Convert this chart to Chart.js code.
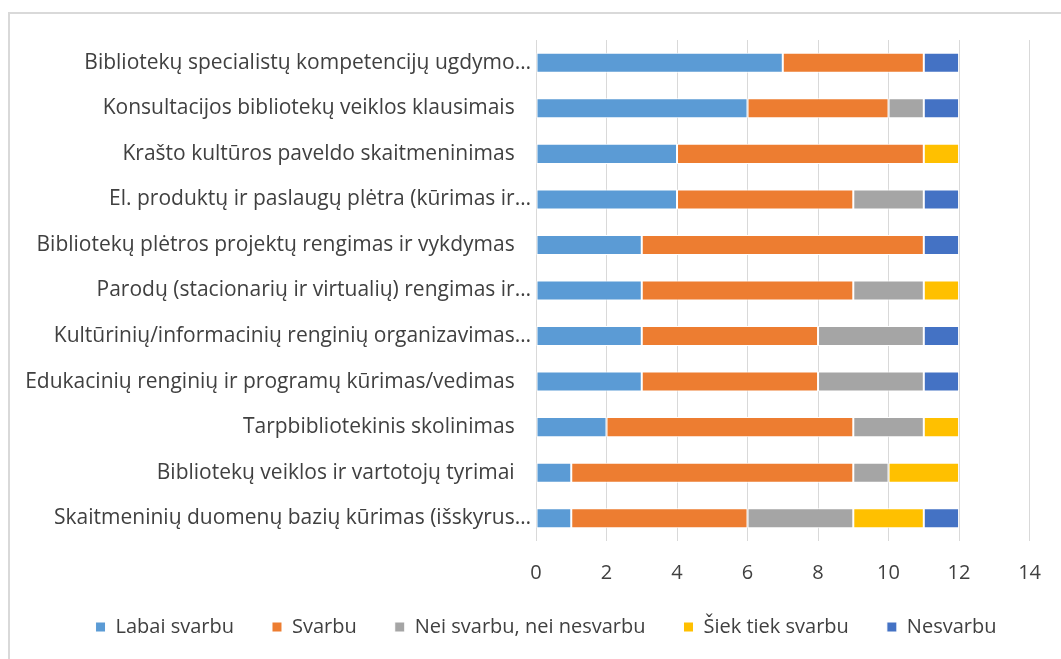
<!DOCTYPE html>
<html>
<head>
<meta charset="utf-8">
<script src="https://cdn.jsdelivr.net/npm/chart.js@4"></script>
<style>
  html, body { margin: 0; padding: 0; background: #fff; overflow: hidden; }
  #frame { position: absolute; left: 8px; top: 12px; width: 1070px; height: 680px; border: 2px solid #d9d9d9; box-sizing: border-box; }
  #wrap { position: absolute; left: 0; top: 0; width: 1061px; height: 659px; }
</style>
</head>
<body>
<div id="frame"></div>
<div id="wrap"><canvas id="c" width="1061" height="659"></canvas></div>
<script>
const categories = [
  "Bibliotekų specialistų kompetencijų ugdymo…",
  "Konsultacijos bibliotekų veiklos klausimais   ",
  "Krašto kultūros paveldo skaitmeninimas   ",
  "El. produktų ir paslaugų plėtra (kūrimas ir…",
  "Bibliotekų plėtros projektų rengimas ir vykdymas   ",
  "Parodų (stacionarių ir virtualių) rengimas ir…",
  "Kultūrinių/informacinių renginių organizavimas…",
  "Edukacinių renginių ir programų kūrimas/vedimas   ",
  "Tarpbibliotekinis skolinimas   ",
  "Bibliotekų veiklos ir vartotojų tyrimai   ",
  "Skaitmeninių duomenų bazių kūrimas (išskyrus…"
];
const seriesNames = ["Labai svarbu", "Svarbu", "Nei svarbu, nei nesvarbu", "Šiek tiek svarbu", "Nesvarbu"];
const labaiSvarbu = [7, 6, 4, 4, 3, 3, 3, 3, 2, 1, 1];
const svarbu      = [4, 4, 7, 5, 8, 6, 5, 5, 7, 8, 5];
const neiSvarbu   = [0, 1, 0, 2, 0, 2, 3, 3, 2, 1, 3];
const siekTiek    = [0, 0, 1, 0, 0, 1, 0, 0, 1, 2, 2];
const nesvarbu    = [1, 1, 0, 1, 1, 0, 1, 1, 0, 0, 1];
const xTicks = [0, 2, 4, 6, 8, 10, 12, 14];

const colors = ["#5B9BD5", "#ED7D31", "#A5A5A5", "#FFC000", "#4472C4"];
const seriesData = [labaiSvarbu, svarbu, neiSvarbu, siekTiek, nesvarbu];
const FONT = "'Open Sans', sans-serif";
const TXT = "#404040";

const shiftLegend = {
  id: "shiftLegend",
  afterLayout(chart) {
    if (chart.legend) { chart.legend.left += 31; chart.legend.right += 31; }
  }
};

new Chart(document.getElementById("c"), {
  type: "bar",
  plugins: [shiftLegend],
  data: {
    labels: categories,
    datasets: seriesData.map((d, i) => ({
      label: seriesNames[i],
      data: d,
      backgroundColor: colors[i],
      borderColor: "#ffffff",
      borderWidth: 1,
      borderSkipped: false,
      categoryPercentage: 1,
      barPercentage: 0.44
    }))
  },
  options: {
    indexAxis: "y",
    responsive: false,
    animation: false,
    devicePixelRatio: 1,
    layout: { padding: { top: 40, right: 31, bottom: 12, left: 0 } },
    plugins: {
      tooltip: { enabled: false },
      legend: {
        position: "bottom",
        labels: {
          boxWidth: 10, boxHeight: 10, padding: 38,
          color: TXT,
          font: { family: FONT, size: 20 }
        }
      }
    },
    scales: {
      x: {
        stacked: true,
        min: 0, max: 14,
        afterBuildTicks: s => { s.ticks = xTicks.map(v => ({ value: v })); },
        grid: { color: "#d9d9d9", lineWidth: 1, drawTicks: false },
        border: { display: false },
        ticks: { color: TXT, padding: 20, font: { family: FONT, size: 20 } },
        afterFit: s => { s.height = 38; }
      },
      y: {
        stacked: true,
        grid: { display: false, drawTicks: false },
        border: { display: false },
        ticks: { color: TXT, padding: 5, autoSkip: false, font: { family: FONT, size: 21 } },
        afterFit: s => { s.width = 536; }
      }
    }
  }
});
</script>
</body>
</html>
